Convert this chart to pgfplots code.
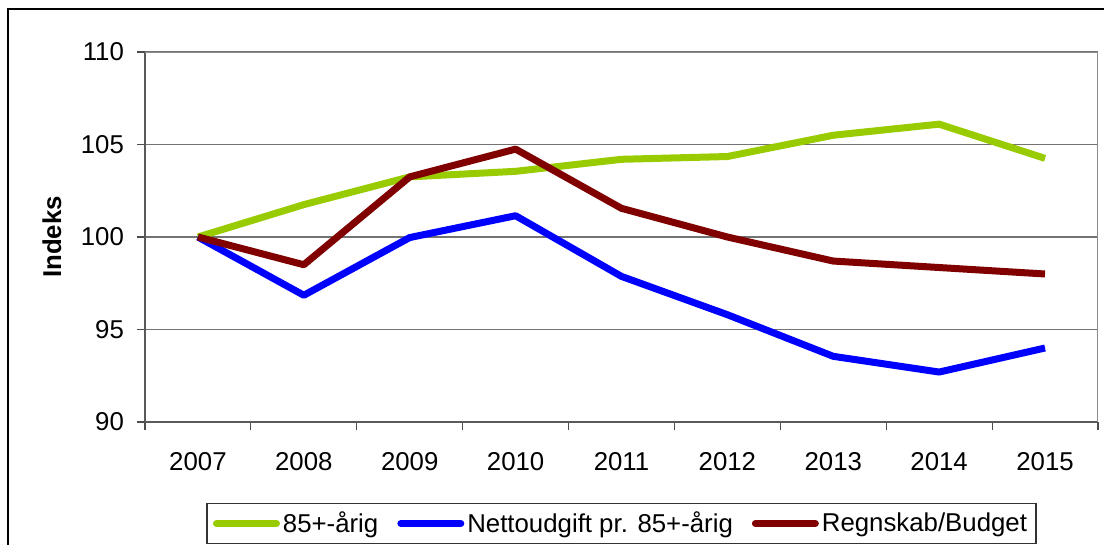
\documentclass[border=0pt]{standalone}
\usepackage{fontspec}
\setmainfont{Liberation Sans}
\usepackage{pgfplots}
\pgfplotsset{compat=1.18}
\definecolor{cgreen}{HTML}{99CC00}
\definecolor{cblue}{HTML}{0000FF}
\definecolor{cred}{HTML}{800000}

\begin{document}
\begin{tikzpicture}[font=\fontsize{12.9}{15.5}\selectfont]
\path[use as bounding box] (0,0) rectangle (552pt,-272.5pt);
% outer chart frame (right and bottom edges fall outside the crop)
\draw[line width=1pt] (4pt,-300pt) -- (4pt,-4.5pt) -- (600pt,-4.5pt);
\begin{axis}[at={(72.5pt,-211pt)}, anchor=south west, scale only axis,
  width=476.5pt, height=185pt,
  xmin=-0.5, xmax=8.5, ymin=90, ymax=110,
  ytick={90,95,...,110}, ymajorgrids,
  grid style={draw=black!55, line width=0.6pt},
  axis lines*=left, axis line style={draw=black!65, line width=0.8pt},
  xtick={0,...,8},
  xticklabels={2007,2008,2009,2010,2011,2012,2013,2014,2015},
  minor xtick={-0.5,0.5,...,8.5},
  major x tick style={draw=none},
  tick style={black!70, line width=0.6pt},
  tick align=outside, major tick length=4pt, minor tick length=4pt,
  /pgf/number format/assume math mode=true,
  yticklabel style={xshift=-3pt},
  xticklabel style={yshift=-7.5pt},
  ylabel={\bfseries Indeks},
  ylabel style={at={(axis description cs:-0.0976,0.5)}, anchor=center},
  legend columns=3,
  legend style={at={(axis description cs:0.5,-0.219)}, anchor=north,
    draw=black!80, line width=0.6pt, inner xsep=3pt, inner ysep=2pt,
    nodes={inner xsep=1.5pt},
    /tikz/every even column/.append style={column sep=8pt}},
  legend image code/.code={\draw[#1, line cap=round] (0pt,0pt) -- (30pt,0pt);},
  every axis plot/.append style={line width=3.5pt, line join=round},
]
\addplot[cgreen] coordinates {(0,100) (1,101.75) (2,103.25) (3,103.55) (4,104.2) (5,104.35) (6,105.5) (7,106.1) (8,104.25)};
\addplot[cblue] coordinates {(0,100) (1,96.85) (2,99.97) (3,101.15) (4,97.87) (5,95.8) (6,93.55) (7,92.7) (8,94.0)};
\addplot[cred] coordinates {(0,100) (1,98.5) (2,103.25) (3,104.75) (4,101.55) (5,100.0) (6,98.7) (7,98.35) (8,98.0)};
\legend{85+-årig, Nettoudgift pr. 85+-årig, Regnskab/Budget}
\draw[black!45, line width=1pt] (rel axis cs:0,1) -- (rel axis cs:1,1) -- (rel axis cs:1,0);
\end{axis}
\end{tikzpicture}
\end{document}
